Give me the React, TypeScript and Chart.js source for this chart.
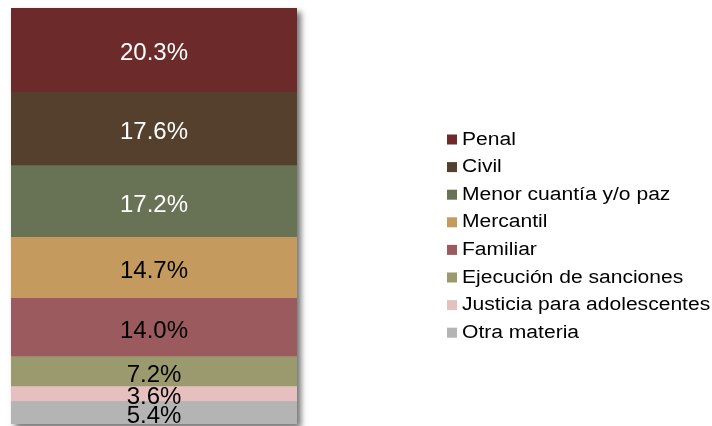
import React, { useEffect, useRef } from "react";
import { Chart, registerables } from "chart.js";

Chart.register(...registerables);

const categories = [
  "Penal",
  "Civil",
  "Menor cuantía y/o paz",
  "Mercantil",
  "Familiar",
  "Ejecución de sanciones",
  "Justicia para adolescentes",
  "Otra materia",
];
const values = [20.3, 17.6, 17.2, 14.7, 14.0, 7.2, 3.6, 5.4];
const colors = [
  "#6D2A2A",
  "#553F2D",
  "#687254",
  "#C49A5E",
  "#9B5A5E",
  "#9A9A6E",
  "#E6C0BF",
  "#B4B4B4",
];
const labelColors = ["#FFFFFF", "#FFFFFF", "#FFFFFF", "#000000", "#000000", "#000000", "#000000", "#000000"];

const FONT = "'Liberation Sans', Arial, sans-serif";

const shadowPlugin = {
  id: "barShadow",
  beforeDatasetsDraw(chart: any) {
    const { ctx, chartArea } = chart;
    ctx.save();
    ctx.shadowColor = "rgba(0,0,0,0.55)";
    ctx.shadowBlur = 6;
    ctx.shadowOffsetX = 4;
    ctx.shadowOffsetY = 4;
    ctx.fillStyle = "#888";
    ctx.fillRect(chartArea.left, chartArea.top, chartArea.right - chartArea.left, chartArea.bottom - chartArea.top);
    ctx.restore();
  },
};

const labelPlugin = {
  id: "segLabels",
  afterDatasetsDraw(chart: any) {
    const { ctx } = chart;
    ctx.save();
    const size = 24;
    ctx.font = `${size}px ${FONT}`;
    ctx.textAlign = "center";
    ctx.textBaseline = "alphabetic";
    chart.data.datasets.forEach((ds: any, i: number) => {
      const meta = chart.getDatasetMeta(i);
      const el = meta.data[0];
      if (!el) return;
      const { x, y, base } = el.getProps(["x", "y", "base"], true);
      const cy = (y + base) / 2 + size * 0.716 / 2 + 1.5;
      ctx.fillStyle = ds.textColor;
      ctx.fillText(ds.data[0].toFixed(1) + "%", x, cy);
    });
    ctx.restore();
  },
};

const legendPlugin = {
  id: "customLegend",
  afterDraw(chart: any) {
    const { ctx } = chart;
    ctx.save();
    const markerX = 447;
    const textX = 462;
    const firstBaseline = 144.5;
    const step = 27.6;
    ctx.textBaseline = "alphabetic";
    ctx.textAlign = "left";
    ctx.font = `18px ${FONT}`;
    categories.forEach((c, i) => {
      const by = firstBaseline + i * step;
      ctx.fillStyle = colors[i];
      ctx.fillRect(markerX, by - 10, 10, 10);
      ctx.save();
      ctx.translate(textX, by);
      ctx.scale(1.17, 1);
      ctx.fillStyle = "#000";
      ctx.fillText(c, 0, 0);
      ctx.restore();
    });
    ctx.restore();
  },
};

export default function App() {
  const ref = useRef<HTMLCanvasElement | null>(null);
  useEffect(() => {
    if (!ref.current) return;
    const order = categories.map((_, i) => i).reverse();
    const chart = new Chart(ref.current, {
      type: "bar",
      data: {
        labels: [""],
        datasets: order.map((i) => ({
          label: categories[i],
          data: [values[i]],
          backgroundColor: colors[i],
          borderWidth: 0,
          barPercentage: 1,
          categoryPercentage: 1,
          textColor: labelColors[i],
        })) as any,
      },
      options: {
        responsive: false,
        animation: false,
        layout: { padding: { left: 11, right: 415, top: 8, bottom: 2 } },
        plugins: { legend: { display: false }, tooltip: { enabled: false } },
        scales: {
          x: { stacked: true, display: false },
          y: { stacked: true, display: false, min: 0, max: 100 },
        },
      },
      plugins: [shadowPlugin, labelPlugin, legendPlugin],
    });
    return () => chart.destroy();
  }, []);
  return (
    <div style={{ position: "absolute", left: 0, top: 0, width: 712, height: 426, background: "#fff" }}>
      <canvas ref={ref} width={712} height={426} style={{ display: "block" }} />
    </div>
  );
}
